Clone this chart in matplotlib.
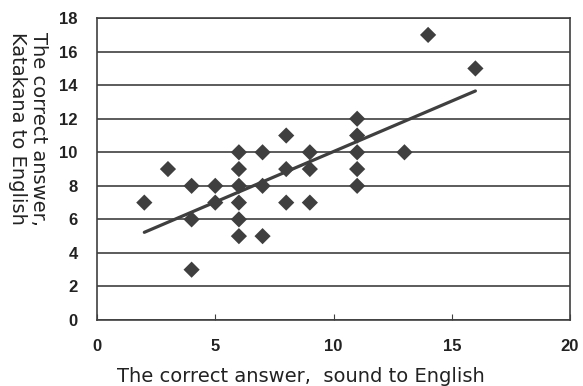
import numpy as np
import matplotlib
matplotlib.use("Agg")
import matplotlib.pyplot as plt

# correct answers: sound -> English (x), Katakana -> English (y)
sound_to_english = [2, 3, 4, 4, 4, 5, 5, 6, 6, 6, 6, 6, 6, 7, 7, 7,
                    8, 8, 8, 9, 9, 9, 11, 11, 11, 11, 11, 13, 14, 16]
katakana_to_english = [7, 9, 8, 6, 3, 8, 7, 10, 9, 8, 7, 6, 5, 10, 8, 5,
                       11, 9, 7, 10, 9, 7, 12, 11, 10, 9, 8, 10, 17, 15]
x_ticks = [0, 5, 10, 15, 20]
y_ticks = list(range(0, 19, 2))

dark = "#3f3f3f"
plt.rcParams['font.family'] = ['Liberation Sans', 'DejaVu Sans']

fig = plt.figure(figsize=(5.83, 3.86), dpi=100)
ax = fig.add_axes([0.1664, 0.171, 0.8113, 0.782])

x = np.array(sound_to_english)
y = np.array(katakana_to_english)

# least squares trend line over the data range
slope, intercept = np.polyfit(x, y, 1)
xl = np.array([x.min(), x.max()])
ax.plot(xl, slope * xl + intercept, color=dark, lw=2.3, solid_capstyle='round', zorder=3)

ax.scatter(x, y, marker='D', s=68, color=dark, edgecolors='none', zorder=4)

ax.set_xlim(0, 20)
ax.set_ylim(0, 18)
ax.set_xticks(x_ticks)
ax.set_yticks(y_ticks)
ax.yaxis.grid(True, color=dark, lw=1.2)
ax.set_axisbelow(True)

for sp in ax.spines.values():
    sp.set_color(dark)
    sp.set_linewidth(1.2)

ax.tick_params(axis='x', direction='in', length=4, color=dark, labelsize=12,
               labelcolor='#222222', pad=14)
ax.tick_params(axis='y', length=0, labelsize=12, labelcolor='#222222', pad=14)
for lab in ax.get_xticklabels() + ax.get_yticklabels():
    lab.set_fontweight('bold')

ax.set_xlabel("The correct answer,  sound to English", fontsize=14,
              family='DejaVu Sans', color='#222222')
ax.xaxis.set_label_coords(0.43, -0.155)
fig.text(28 / 583, 1 - 32 / 386, "The correct answer,\nKatakana to English",
         rotation=270, ha='center', va='top', multialignment='left',
         family='DejaVu Sans', fontsize=14, color='#222222', linespacing=1.15)

fig.savefig("out.png", dpi=100)
